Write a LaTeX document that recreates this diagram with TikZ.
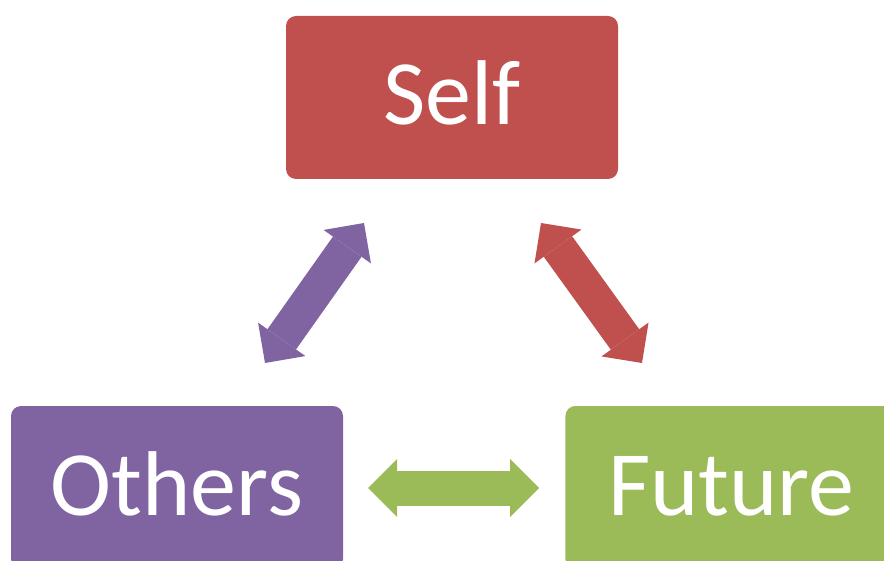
\documentclass[tikz,border=0pt]{standalone}
\usepackage{fontspec}
\setmainfont{Carlito}
\usetikzlibrary{arrows.meta}
\usetikzlibrary{positioning}
\definecolor{selfred}{HTML}{C0504D}
\definecolor{otherspurple}{HTML}{8064A2}
\definecolor{futuregreen}{HTML}{9BBB59}

\begin{document}
\begin{tikzpicture}[x=1pt,y=-1pt,
  >={Triangle[length=29pt,width=58pt,line width=0pt]},
  box/.style={rectangle,rounded corners=10pt,minimum width=332pt,
    minimum height=163pt,inner sep=0pt,text=white,
    font=\fontsize{92}{104}\selectfont,text height=66pt,text depth=11pt},
  link/.style={<->,line width=35pt}]

  \useasboundingbox (0,0) rectangle (884,561);
  \clip (0,0) rectangle (884,561);

  \node[box,fill=selfred] (self) at (452,97.5) {Self};
  \node[box,fill=otherspurple] (others) at (177,487.5) {Others};
  \node[box,fill=futuregreen] (future) [right=222pt of others] {Future};

  \coordinate (so) at (364,223);
  \coordinate (os) at (265,363);
  \coordinate (sf) at (541,223);
  \coordinate (fs) at (642,363);
  \coordinate (of) at (368,488);
  \coordinate (fo) at (539,488);

  \draw[link,otherspurple] (so) -- (os);
  \draw[link,selfred] (sf) -- (fs);
  \draw[link,futuregreen] (of) -- (fo);
\end{tikzpicture}
\end{document}
